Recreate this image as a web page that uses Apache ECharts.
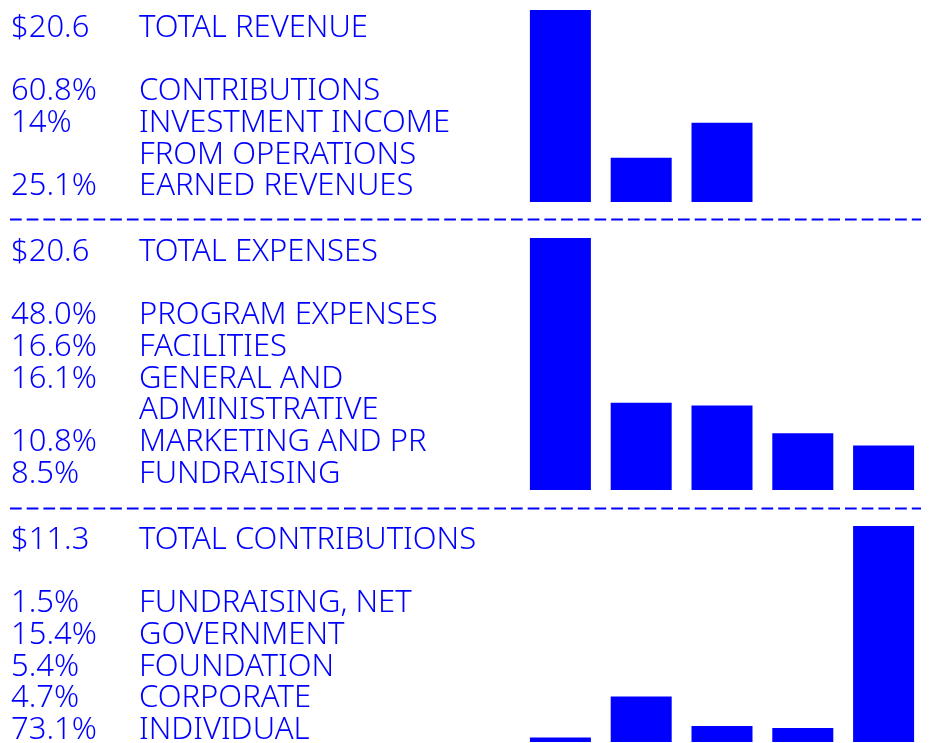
<!DOCTYPE html>
<html>
<head>
<meta charset="utf-8">
<script src="https://cdn.jsdelivr.net/npm/echarts@6/dist/echarts.min.js"></script>
<style>
    html, body { margin: 0; padding: 0; background: #fff; }
    #main { width: 931px; height: 743px; }
</style>
</head>
<body>
<div id="main"></div>
<script>
// 数据
var totals = ['$20.6', '$20.6', '$11.3'];
var titles = ['TOTAL REVENUE', 'TOTAL EXPENSES', 'TOTAL CONTRIBUTIONS'];

var revPct = ['60.8%', '14%', '25.1%'];
var revNames = ['CONTRIBUTIONS', 'INVESTMENT INCOME\nFROM OPERATIONS', 'EARNED REVENUES'];

var expPct = ['48.0%', '16.6%', '16.1%', '10.8%', '8.5%'];
var expNames = ['PROGRAM EXPENSES', 'FACILITIES', 'GENERAL AND\nADMINISTRATIVE', 'MARKETING AND PR', 'FUNDRAISING'];

var conPct = ['1.5%', '15.4%', '5.4%', '4.7%', '73.1%'];
var conNames = ['FUNDRAISING, NET', 'GOVERNMENT', 'FOUNDATION', 'CORPORATE', 'INDIVIDUAL'];

var slots = ['1', '2', '3', '4', '5'];

var blue = '#0000ff';
var font = '"Noto Sans", sans-serif';
var lineH = 31.7;

var sections = [
    { pct: revPct, names: revNames, base: 35, top: 10, height: 192 },
    { pct: expPct, names: expNames, base: 259, top: 238, height: 252 },
    { pct: conPct, names: conNames, base: 547, top: 526, height: 216 }
];

var myChart = echarts.init(document.getElementById('main'));

var grids = [], xAxes = [], yAxes = [], series = [], graphics = [];

function addText(x, baseline, text) {
    graphics.push({
        type: 'text',
        x: x,
        y: baseline - 7,
        style: {
            text: text,
            fill: blue,
            font: '300 31px ' + font,
            verticalAlign: 'middle',
            align: 'left'
        }
    });
}

sections.forEach(function (s, i) {
    grids.push({ left: 520, right: 7, top: s.top, height: s.height });
    xAxes.push({
        type: 'category',
        gridIndex: i,
        data: slots,
        show: false
    });
    yAxes.push({
        type: 'value',
        gridIndex: i,
        min: 0,
        max: function (v) { return v.max; },
        show: false
    });
    series.push({
        type: 'bar',
        xAxisIndex: i,
        yAxisIndex: i,
        barWidth: 61,
        itemStyle: { color: blue },
        silent: true,
        data: s.pct.map(function (p) { return parseFloat(p); })
    });

    // 左侧文字
    addText(11, s.base, totals[i]);
    addText(139, s.base, titles[i]);
    var line = 2;
    s.names.forEach(function (n, j) {
        addText(11, s.base + line * lineH, s.pct[j]);
        n.split('\n').forEach(function (part) {
            addText(139, s.base + line * lineH, part);
            line++;
        });
    });
});

// 分隔虚线
[219.5, 508.5].forEach(function (y) {
    graphics.push({
        type: 'line',
        shape: { x1: 10, y1: y, x2: 921, y2: y },
        style: { stroke: blue, lineWidth: 2, lineDash: [11.7, 5] },
        silent: true
    });
});

var option = {
    animation: false,
    grid: grids,
    xAxis: xAxes,
    yAxis: yAxes,
    series: series,
    graphic: graphics
};

myChart.setOption(option, true);
</script>
</body>
</html>
